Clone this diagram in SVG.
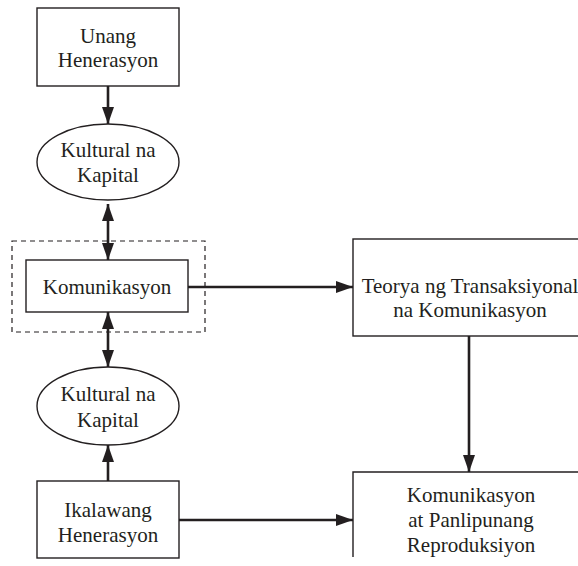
<svg xmlns="http://www.w3.org/2000/svg" width="578" height="566" viewBox="0 0 578 566">
<style>
.box{fill:#fff;stroke:#231f20;stroke-width:1.4}
.dash{fill:none;stroke:#231f20;stroke-width:1.2;stroke-dasharray:5,4}
.t{font-family:'Liberation Serif','Times New Roman',serif;font-size:21px;fill:#231f20;text-anchor:middle}
.c{stroke:#231f20;stroke-width:2.6;fill:none}
</style>
<defs>
<marker id="ah" viewBox="0 0 17 12" refX="17" refY="6" markerWidth="17" markerHeight="12" markerUnits="userSpaceOnUse" orient="auto-start-reverse">
<path d="M0,0 L17,6 L0,12 Z" fill="#231f20"/>
</marker>
</defs>
<rect width="578" height="566" fill="#fff"/>
<g id="connectors">
<line class="c" x1="108" y1="86" x2="108" y2="124" marker-end="url(#ah)"/>
<line class="c" x1="108" y1="204" x2="108" y2="260" marker-start="url(#ah)" marker-end="url(#ah)"/>
<line class="c" x1="108" y1="312" x2="108" y2="367" marker-start="url(#ah)" marker-end="url(#ah)"/>
<line class="c" x1="108" y1="481" x2="108" y2="445" marker-end="url(#ah)"/>
<line class="c" x1="188" y1="287" x2="353" y2="287" marker-end="url(#ah)"/>
<line class="c" x1="469" y1="336" x2="469" y2="472" marker-end="url(#ah)"/>
<line class="c" x1="179" y1="520" x2="353" y2="520" marker-end="url(#ah)"/>
</g>
<g id="unang">
<rect class="box" x="37" y="8" width="142" height="78"/>
<text class="t" x="108" y="43">Unang</text>
<text class="t" x="108" y="67">Henerasyon</text>
</g>
<g id="kapital1">
<ellipse class="box" cx="108" cy="162" rx="71" ry="38"/>
<text class="t" x="108" y="157">Kultural na</text>
<text class="t" x="108" y="182">Kapital</text>
</g>
<g id="komunikasyon-group">
<rect class="dash" x="12" y="241" width="193" height="91"/>
</g>
<g id="komunikasyon">
<rect class="box" x="26" y="260" width="162" height="52"/>
<text class="t" x="107" y="294">Komunikasyon</text>
</g>
<g id="kapital2">
<ellipse class="box" cx="108" cy="406" rx="71" ry="39"/>
<text class="t" x="108" y="401">Kultural na</text>
<text class="t" x="108" y="427">Kapital</text>
</g>
<g id="ikalawang">
<rect class="box" x="37" y="481" width="142" height="77"/>
<text class="t" x="108" y="517">Ikalawang</text>
<text class="t" x="108" y="542">Henerasyon</text>
</g>
<g id="teorya">
<rect class="box" x="353" y="239" width="240" height="97"/>
<text class="t" x="470" y="293">Teorya ng Transaksiyonal</text>
<text class="t" x="470" y="317">na Komunikasyon</text>
</g>
<g id="reproduksiyon">
<path class="box" d="M600,472 H353 V557"/>
<text class="t" x="471" y="502">Komunikasyon</text>
<text class="t" x="471" y="527">at Panlipunang</text>
<text class="t" x="471" y="552">Reproduksiyon</text>
</g>
</svg>
